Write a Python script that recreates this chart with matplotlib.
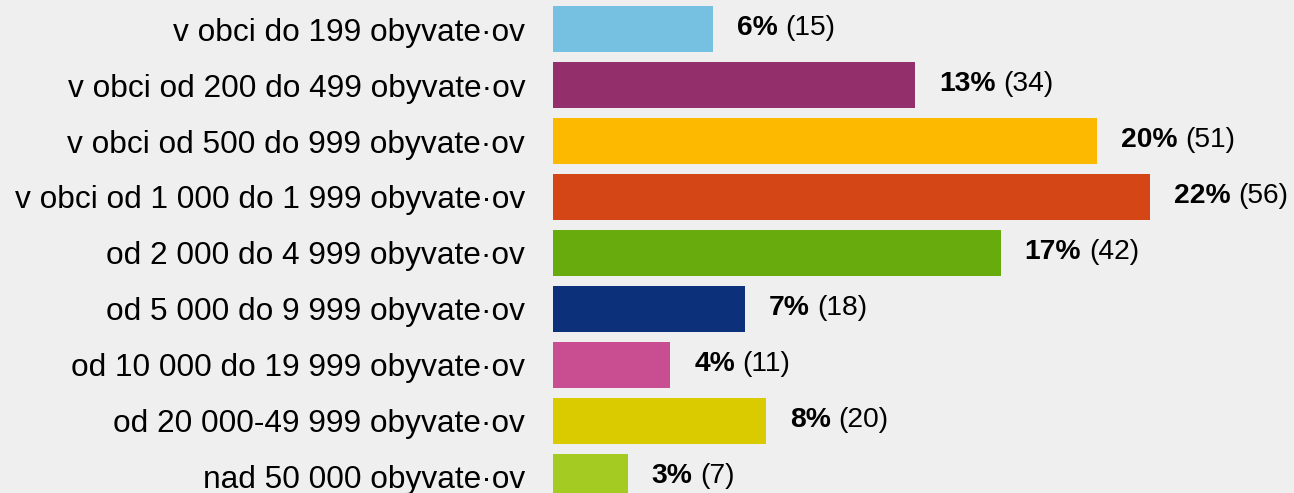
import numpy as np
import matplotlib.pyplot as plt

LABEL_FONT = 'Liberation Sans'
FONT_SIZE = 22.8
VALUE_FONT_SIZE = 20.3

categories = ['v obci do 199 obyvate·ov',
              'v obci od 200 do 499 obyvate·ov',
              'v obci od 500 do 999 obyvate·ov',
              'v obci od 1 000 do 1 999 obyvate·ov',
              'od 2 000 do 4 999 obyvate·ov',
              'od 5 000 do 9 999 obyvate·ov',
              'od 10 000 do 19 999 obyvate·ov',
              'od 20 000-49 999 obyvate·ov',
              'nad 50 000 obyvate·ov']
counts = [15, 34, 51, 56, 42, 18, 11, 20, 7]
percents = ['6%', '13%', '20%', '22%', '17%', '7%', '4%', '8%', '3%']
colors = ['#76c1e1', '#93306c', '#fdb800', '#d54616', '#67ab0c',
          '#0c317a', '#c84d91', '#dacb00', '#a3cb22']

plt.rcParams['font.family'] = [LABEL_FONT, 'DejaVu Sans']

fig = plt.figure(figsize=(12.94, 4.93), dpi=100, facecolor='#efefef')
ax = fig.add_axes([553 / 1294, 0, 1 - 553 / 1294, 1])
ax.set_facecolor('#efefef')

y = np.arange(len(categories))
ax.barh(y, counts, height=0.82, color=colors)

ax.set_xlim(0, 741 / 10.66)
ax.set_ylim(8.286, -0.518)
ax.set_yticks(y)
ax.set_yticklabels(categories, fontsize=FONT_SIZE)
ax.tick_params(axis='y', length=0, pad=20)
ax.set_xticks([])
for s in ax.spines.values():
    s.set_visible(False)

for i in range(len(counts)):
    # bold percent, then the count in brackets right after it
    t1 = ax.annotate(percents[i], xy=(counts[i], i), xytext=(17.3, -4.3),
                     textcoords='offset points', ha='left', va='baseline',
                     fontsize=VALUE_FONT_SIZE, fontweight='bold')
    ax.annotate('(%d)' % counts[i], xy=(1, 0), xycoords=t1,
                xytext=(5.5, 0), textcoords='offset points',
                ha='left', va='bottom', fontsize=VALUE_FONT_SIZE)

fig.savefig('out.png', dpi=100, facecolor=fig.get_facecolor())
